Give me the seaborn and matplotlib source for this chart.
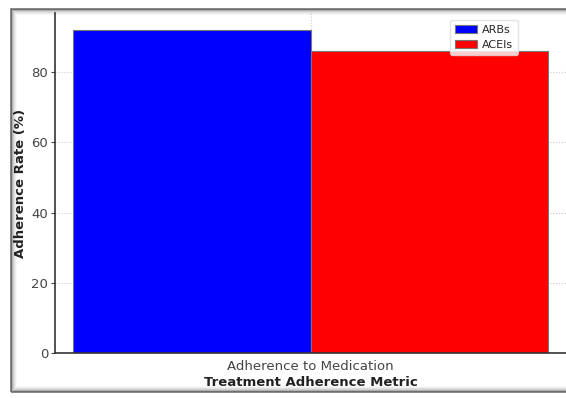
import matplotlib
matplotlib.use("Agg")
import matplotlib.pyplot as plt
import seaborn as sns
import pandas as pd
from matplotlib.patches import Rectangle

metric = ["Adherence to Medication", "Adherence to Medication"]
groups = ["ARBs", "ACEIs"]
rates = [92, 86]
colors = ["#0000ff", "#ff0000"]

df = pd.DataFrame({"metric": metric, "group": groups, "rate": rates})

sns.set_style("white")
plt.rcParams['font.family'] = ['DejaVu Sans']

fig = plt.figure(figsize=(5.66, 3.98), dpi=100)
W, H = 566, 398

# screenshot-like frame with soft inner shadow
x0, y0, y1 = 11, 6, 389
for i, a in enumerate([0.55, 0.25, 0.15, 0.09, 0.05, 0.03]):
    fig.patches.append(Rectangle(((x0 + i) / W, (y0 + i) / H), (W + 20 - x0) / W, (y1 - y0 - 2 * i) / H,
                                 transform=fig.transFigure, fill=False,
                                 edgecolor="black", alpha=a, linewidth=1.2))

ax = fig.add_axes([55 / W, 45 / H, (W - 55) / W, (353 - 13) / H])
sns.barplot(data=df, x="metric", y="rate", hue="group", hue_order=groups,
            palette=colors, saturation=1, edgecolor="#777777", linewidth=0.8, ax=ax)

ax.set_xlim(-0.43, 0.43)
ax.set_ylim(0, 96.8)
ax.set_yticks([0, 20, 40, 60, 80])
ax.grid(True, linestyle=":", color="#cccccc", linewidth=0.8)
ax.set_axisbelow(True)
for s in ["top", "right"]:
    ax.spines[s].set_visible(False)
for s in ["left", "bottom"]:
    ax.spines[s].set_color("#333333")
    ax.spines[s].set_linewidth(1.2)
ax.tick_params(axis="both", labelsize=9.5, colors="#444444", length=3, left=True, pad=2)
ax.set_xlabel("Treatment Adherence Metric", fontsize=9.5, fontweight="bold", color="#222222", labelpad=2)
ax.set_ylabel("Adherence Rate (%)", fontsize=9.5, fontweight="bold", color="#222222")
ax.yaxis.set_label_coords(-0.055, 0.5)
leg = ax.legend(loc="upper right", fontsize=8, frameon=True, handlelength=2.0,
                borderaxespad=0.0, bbox_to_anchor=(0.906, 0.979), handletextpad=0.5)
leg.get_frame().set_edgecolor("#dddddd")

fig.savefig("out.png", dpi=100)
